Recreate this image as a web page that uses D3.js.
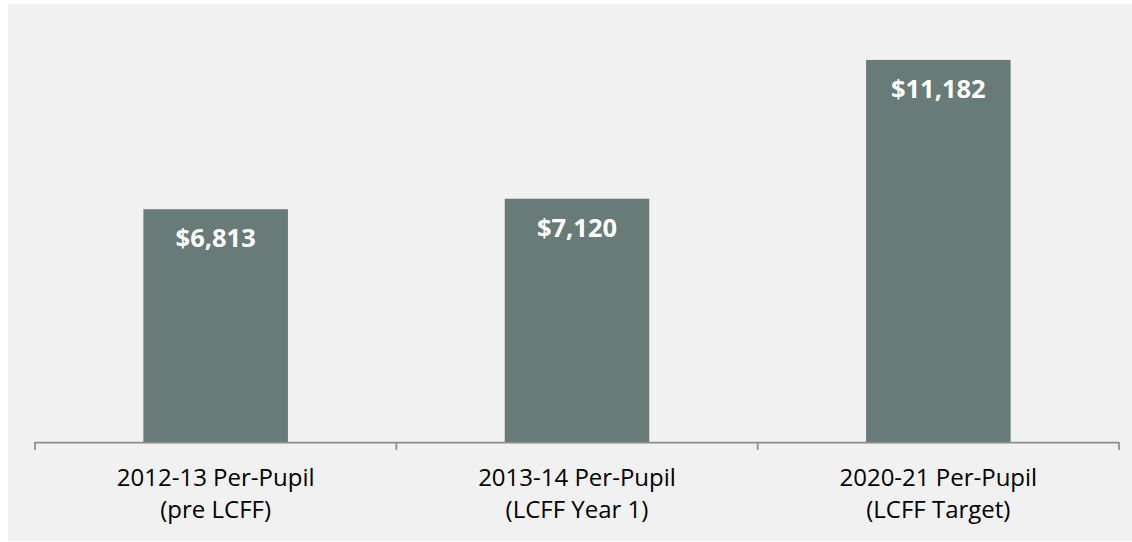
<!DOCTYPE html>
<html><head><meta charset="utf-8">
<script src="https://cdn.jsdelivr.net/npm/d3@7"></script>
<style>html,body{margin:0;padding:0;background:#fff;}svg{display:block;}</style>
</head><body>
<svg id="chart" width="1132" height="542"></svg>
<script>
const categories = ["2012-13 Per-Pupil|(pre LCFF)", "2013-14 Per-Pupil|(LCFF Year 1)", "2020-21 Per-Pupil|(LCFF Target)"];
const values = [6813, 7120, 11182];
const valueLabels = ["$6,813", "$7,120", "$11,182"];

const svg = d3.select("#chart");
svg.append("rect").attr("x", 8).attr("y", 4).attr("width", 1124).attr("height", 537).attr("fill", "#f1f1f1");

const left = 35, right = 1119, base = 442;
const xOuter = d3.scaleBand().domain(categories).range([left, right]).padding(0);
const x = d3.scaleBand().domain(categories).range([left, right]).paddingInner(0.6).paddingOuter(0.3);
const y = d3.scaleLinear().domain([0, 12000]).range([base, 32]);

svg.selectAll("rect.bar").data(categories).enter().append("rect")
  .attr("class", "bar")
  .attr("x", d => x(d)).attr("width", x.bandwidth())
  .attr("y", (d, i) => y(values[i])).attr("height", (d, i) => base - y(values[i]))
  .attr("fill", "#687b78");

svg.selectAll("text.val").data(categories).enter().append("text")
  .attr("class", "val")
  .attr("x", d => x(d) + x.bandwidth() / 2)
  .attr("y", (d, i) => y(values[i]) + 38)
  .attr("text-anchor", "middle")
  .attr("fill", "#ffffff")
  .style("font-family", "'Open Sans', sans-serif").style("font-weight", "bold").style("font-size", "25.5px")
  .text((d, i) => valueLabels[i]);

// axis line and ticks
const g = svg.append("g");
g.append("line").attr("x1", left).attr("x2", right).attr("y1", base + 0.5).attr("y2", base + 0.5)
  .attr("stroke", "#8c8c8c").attr("stroke-width", 1.75);
const tickPos = categories.map(d => xOuter(d)).concat([right]);
g.selectAll("line.tick").data(tickPos).enter().append("line")
  .attr("class", "tick")
  .attr("x1", d => d).attr("x2", d => d).attr("y1", base).attr("y2", base + 8)
  .attr("stroke", "#8c8c8c").attr("stroke-width", 1.75);

const labels = svg.selectAll("text.cat").data(categories).enter().append("text")
  .attr("class", "cat")
  .attr("text-anchor", "middle")
  .attr("fill", "#000")
  .style("font-family", "'Open Sans', sans-serif").style("font-size", "24px");
labels.each(function(d) {
  const cx = xOuter(d) + xOuter.bandwidth() / 2;
  d.split("|").forEach((line, i) => {
    d3.select(this).append("tspan").attr("x", cx).attr("y", 486 + i * 32).text(line);
  });
});
</script>
</body></html>
